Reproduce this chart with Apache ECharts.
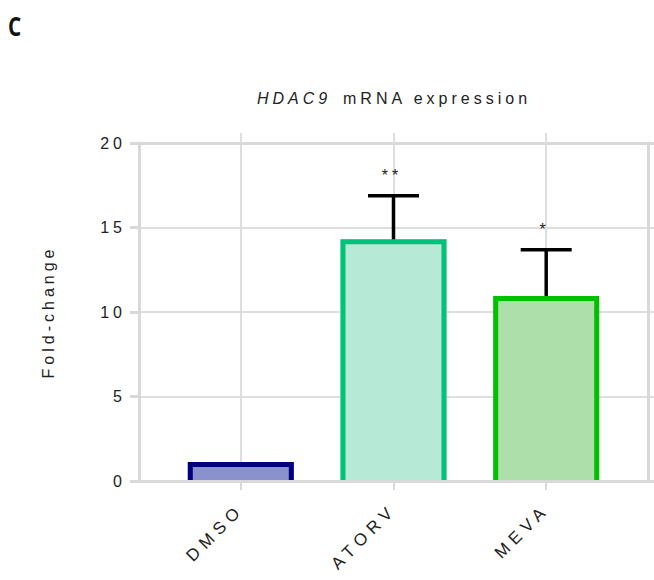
<!DOCTYPE html>
<html><head><meta charset="utf-8">
<script src="https://cdn.jsdelivr.net/npm/echarts@6/dist/echarts.min.js"></script>
<style>
html,body{margin:0;padding:0;background:#fff}
#chart{width:654px;height:580px}
#chart text{letter-spacing:4px}
</style></head><body><div id="chart"></div>
<script>
// ---- data ----
const categories = ['DMSO', 'ATORV', 'MEVA'];
const means = [1.12, 14.3, 10.95];
const errorsUp = [0, 2.58, 2.74];
const stars = ['', '**', '*'];
const yMin = 0, yMax = 20, yStep = 5;
const yTitle = 'Fold-change';

// ---- styles ----
const barFills = ['#8b91cc', '#b6e9d6', '#addfaa'];
const barBorders = ['#000080', '#00c27a', '#00c000'];
const AXIS = '#d9d9d9', GRID = '#dedede', TXT = '#222';
const FAMILY = 'Liberation Sans';
const FONT = '"Liberation Sans", Arial, sans-serif';
const BAR_W = 106, BORDER_W = 5;
// per-text letter spacing (px)
const spacing = {'DMSO': 5.5, 'ATORV': 5.5, 'MEVA': 5.5};

const catPos = categories.map((c, i) => i + 1);
const X_MIN = 1 / 3;
const X_MAX = 1 / 3 + 515 / (509 / (10 / 3));

const chart = echarts.init(document.getElementById('chart'), null, {renderer: 'svg'});
chart.setOption({
  animation: false,
  textStyle: {fontFamily: FAMILY},
  grid: {left: 139, right: 0, top: 143, bottom: 99, containLabel: false},
  graphic: [
    {type: 'text', x: 8, y: 26, scaleX: 0.8, style: {text: 'C', font: 'bold 26px "Open Sans", sans-serif', fill: '#111', verticalAlign: 'middle'}},
    {type: 'text', x: 257, y: 98, style: {text: 'HDAC9', font: 'italic 16px ' + FONT, fill: TXT, verticalAlign: 'middle'}},
    {type: 'text', x: 343, y: 98, style: {text: 'mRNA expression', font: '16px ' + FONT, fill: TXT, verticalAlign: 'middle'}},
    {type: 'text', x: 48, y: 312, rotation: Math.PI / 2, style: {text: yTitle, font: '16px ' + FONT, fill: TXT, align: 'center', verticalAlign: 'middle'}}
  ],
  xAxis: [
    {
      type: 'value', position: 'bottom', min: X_MIN, max: X_MAX, z: 5,
      axisLine: {show: true, onZero: false, lineStyle: {color: AXIS, width: 3}},
      axisTick: {show: true, customValues: catPos, length: 9, lineStyle: {color: AXIS, width: 2}},
      axisLabel: {customValues: catPos, formatter: v => categories[Math.round(v) - 1], rotate: 45, margin: 26,
                  fontSize: 17, fontFamily: FAMILY, color: TXT},
      splitLine: {show: false}
    },
    {
      type: 'value', position: 'top', min: X_MIN, max: X_MAX, z: 0,
      axisLine: {show: true, onZero: false, lineStyle: {color: AXIS, width: 3}},
      axisTick: {show: true, customValues: catPos, length: 10, lineStyle: {color: GRID, width: 2}},
      axisLabel: {show: false, customValues: catPos},
      splitLine: {show: true, lineStyle: {color: GRID, width: 2}}
    }
  ],
  yAxis: [
    {
      type: 'value', position: 'left', min: yMin, max: yMax, interval: yStep,
      axisLine: {show: true, onZero: false, lineStyle: {color: AXIS, width: 3}},
      axisTick: {show: true, length: 9, lineStyle: {color: AXIS, width: 3}},
      axisLabel: {margin: 13, fontSize: 16, fontFamily: FAMILY, color: TXT},
      splitLine: {show: true, lineStyle: {color: GRID, width: 2}}
    },
    {
      type: 'value', position: 'right', offset: -6, min: yMin, max: yMax,
      axisLine: {show: true, onZero: false, lineStyle: {color: AXIS, width: 3}},
      axisTick: {show: false}, axisLabel: {show: false}, splitLine: {show: false}
    }
  ],
  series: [
    {
      type: 'bar', xAxisIndex: 0, yAxisIndex: 0, barWidth: BAR_W, z: 2,
      data: categories.map((c, i) => ({
        value: [catPos[i], means[i]],
        itemStyle: {color: barFills[i]}
      }))
    },
    {
      // open outline (left, top, right) of each bar
      type: 'custom', xAxisIndex: 0, yAxisIndex: 0, z: 3,
      data: categories.map((c, i) => [catPos[i], means[i], i]),
      renderItem: function (params, api) {
        const i = api.value(2);
        const pb = api.coord([api.value(0), 0]);
        const pt = api.coord([api.value(0), api.value(1)]);
        const h = BORDER_W / 2;
        const xl = pb[0] - BAR_W / 2 + h, xr = pb[0] + BAR_W / 2 - h;
        return {
          type: 'polyline',
          shape: {points: [[xl, pb[1]], [xl, pt[1] + h], [xr, pt[1] + h], [xr, pb[1]]]},
          style: {stroke: barBorders[i], lineWidth: BORDER_W, fill: null, lineJoin: 'miter'}
        };
      }
    },
    {
      type: 'custom', xAxisIndex: 0, yAxisIndex: 0, z: 4,
      data: categories.map((c, i) => [catPos[i], means[i], means[i] + errorsUp[i], i]),
      renderItem: function (params, api) {
        const i = api.value(3);
        if (!errorsUp[i]) return null;
        const p0 = api.coord([api.value(0), api.value(1)]);
        const p1 = api.coord([api.value(0), api.value(2)]);
        const ls = {stroke: '#000', lineWidth: 3.5};
        return {
          type: 'group',
          children: [
            {type: 'line', shape: {x1: p0[0], y1: p0[1], x2: p1[0], y2: p1[1]}, style: ls},
            {type: 'line', shape: {x1: p1[0] - 25.5, y1: p1[1], x2: p1[0] + 25.5, y2: p1[1]}, style: ls},
            {type: 'text', x: p1[0] - 1.5, y: p1[1] - 20, style: {text: stars[i], font: '16px ' + FONT, fill: TXT, align: 'center', verticalAlign: 'middle'}}
          ]
        };
      }
    }
  ]
});

function applySpacing() {
  document.querySelectorAll('#chart text').forEach(t => {
    const s = spacing[t.textContent.trim()];
    if (s !== undefined) t.style.letterSpacing = s + 'px';
  });
}
chart.on('finished', applySpacing);
applySpacing();
setTimeout(applySpacing, 0);
setTimeout(applySpacing, 50);
</script></body></html>
